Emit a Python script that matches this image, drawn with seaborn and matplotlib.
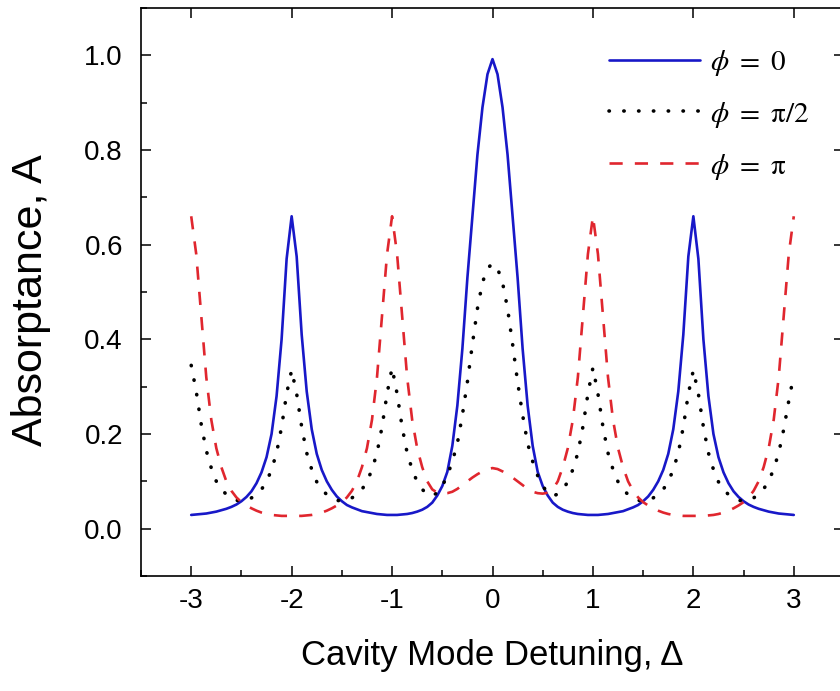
import numpy as np
import matplotlib
matplotlib.use('Agg')
import matplotlib.pyplot as plt
import seaborn as sns
from matplotlib.ticker import MultipleLocator

# sample positions along the detuning axis (step 0.05)
detuning = np.linspace(-3, 3, 121)

# values
absorb_phi0 = [
    0.029, 0.030, 0.031, 0.032, 0.034, 0.036, 0.039, 0.042, 0.046, 0.051,
    0.058, 0.067, 0.079, 0.096, 0.119, 0.151, 0.200, 0.280, 0.400, 0.570,
    0.660, 0.575, 0.410, 0.290, 0.210, 0.158, 0.124, 0.100, 0.082, 0.068,
    0.058, 0.050, 0.045, 0.041, 0.037, 0.035, 0.033, 0.031, 0.030, 0.029,
    0.029, 0.029, 0.030, 0.031, 0.033, 0.036, 0.040, 0.046, 0.055, 0.070,
    0.090, 0.120, 0.175, 0.260, 0.380, 0.530, 0.660, 0.790, 0.890, 0.960,
    0.992,
    0.960, 0.890, 0.790, 0.660, 0.530, 0.380, 0.260, 0.175, 0.120, 0.090,
    0.070, 0.055, 0.046, 0.040, 0.036, 0.033, 0.031, 0.030, 0.029, 0.029,
    0.029, 0.030, 0.031, 0.033, 0.035, 0.037, 0.041, 0.045, 0.050, 0.058,
    0.068, 0.082, 0.100, 0.124, 0.158, 0.210, 0.290, 0.410, 0.575, 0.660,
    0.570, 0.400, 0.280, 0.200, 0.151, 0.119, 0.096, 0.079, 0.067, 0.058,
    0.051, 0.046, 0.042, 0.039, 0.036, 0.034, 0.032, 0.031, 0.030, 0.029,
]

absorb_phi_half = [
    0.345, 0.290, 0.220, 0.165, 0.128, 0.100, 0.084, 0.072, 0.065, 0.060,
    0.058, 0.060, 0.065, 0.072, 0.083, 0.099, 0.125, 0.160, 0.215, 0.285,
    0.335, 0.285, 0.215, 0.160, 0.125, 0.099, 0.083, 0.072, 0.065, 0.060,
    0.058, 0.060, 0.065, 0.072, 0.083, 0.099, 0.125, 0.160, 0.215, 0.285,
    0.340, 0.285, 0.215, 0.160, 0.125, 0.099, 0.083, 0.073, 0.069, 0.076,
    0.090, 0.112, 0.142, 0.180, 0.240, 0.310, 0.390, 0.465, 0.520, 0.550,
    0.560,
    0.550, 0.520, 0.465, 0.390, 0.310, 0.240, 0.180, 0.142, 0.112, 0.090,
    0.076, 0.069, 0.073, 0.083, 0.099, 0.125, 0.160, 0.215, 0.285, 0.340,
    0.285, 0.215, 0.160, 0.125, 0.099, 0.083, 0.072, 0.065, 0.060, 0.058,
    0.060, 0.065, 0.072, 0.083, 0.099, 0.125, 0.160, 0.215, 0.285, 0.335,
    0.285, 0.215, 0.160, 0.125, 0.099, 0.083, 0.072, 0.065, 0.060, 0.058,
    0.060, 0.065, 0.072, 0.084, 0.100, 0.126, 0.160, 0.210, 0.270, 0.325,
]

absorb_phi_pi = [
    0.660, 0.580, 0.450, 0.320, 0.230, 0.170, 0.130, 0.100, 0.080, 0.066,
    0.056, 0.049, 0.043, 0.038, 0.034, 0.031, 0.029, 0.028, 0.027, 0.027,
    0.027, 0.027, 0.027, 0.028, 0.029, 0.031, 0.034, 0.038, 0.043, 0.049,
    0.056, 0.066, 0.080, 0.100, 0.130, 0.170, 0.230, 0.320, 0.450, 0.580,
    0.660, 0.580, 0.450, 0.320, 0.230, 0.170, 0.130, 0.100, 0.083, 0.076,
    0.074, 0.075, 0.078, 0.084, 0.092, 0.100, 0.108, 0.115, 0.121, 0.126,
    0.128,
    0.126, 0.121, 0.115, 0.108, 0.100, 0.092, 0.084, 0.078, 0.075, 0.074,
    0.076, 0.083, 0.100, 0.130, 0.170, 0.230, 0.320, 0.450, 0.580, 0.660,
    0.580, 0.450, 0.320, 0.230, 0.170, 0.130, 0.100, 0.080, 0.066, 0.056,
    0.049, 0.043, 0.038, 0.034, 0.031, 0.029, 0.028, 0.027, 0.027, 0.027,
    0.027, 0.027, 0.028, 0.029, 0.031, 0.034, 0.038, 0.043, 0.049, 0.056,
    0.066, 0.080, 0.100, 0.130, 0.170, 0.230, 0.320, 0.450, 0.580, 0.660,
]

labels = [r'$\phi\ =\ 0$', r'$\phi\ =\ \mathrm{\pi}/2$', r'$\phi\ =\ \mathrm{\pi}$']

sns.set_style('ticks')
plt.rcParams['font.family'] = ['Liberation Sans', 'DejaVu Sans']
plt.rcParams['mathtext.fontset'] = 'stix'
plt.rcParams['axes.unicode_minus'] = False
for key in ['text.color', 'axes.labelcolor', 'xtick.color', 'ytick.color',
            'axes.edgecolor']:
    plt.rcParams[key] = 'black'

fig = plt.figure(figsize=(8.4, 6.91), dpi=100)
ax = fig.add_axes([141 / 840, 115 / 691, 703 / 840, 568 / 691])

sns.lineplot(x=detuning, y=absorb_phi0, ax=ax, color='#1818c8', lw=1.9,
             label=labels[0])
sns.lineplot(x=detuning, y=absorb_phi_half, ax=ax, color='black', lw=2.6,
             linestyle=(0, (0.1, 4.0)), dash_capstyle='round', label=labels[1])
sns.lineplot(x=detuning, y=absorb_phi_pi, ax=ax, color='#e0262e', lw=1.9,
             linestyle=(0, (5.0, 4.6)), label=labels[2])

ax.set_xlim(-3.5, 3.5)
ax.set_ylim(-0.1, 1.1)
ax.xaxis.set_major_locator(MultipleLocator(1))
ax.xaxis.set_minor_locator(MultipleLocator(0.5))
ax.yaxis.set_major_locator(MultipleLocator(0.2))
ax.yaxis.set_minor_locator(MultipleLocator(0.1))
ax.tick_params(which='both', direction='in', top=True, right=True, width=1.1)
ax.tick_params(which='major', length=7, labelsize=20)
ax.tick_params(axis='x', which='major', pad=9)
ax.tick_params(axis='y', which='major', pad=13)
ax.tick_params(which='minor', length=4, top=False, right=False)
for sp in ax.spines.values():
    sp.set_linewidth(1.2)

ax.set_xlabel('Cavity Mode Detuning, Δ', fontsize=25, labelpad=18)
ax.set_ylabel('Absorptance, A', fontsize=31)
ax.yaxis.set_label_coords(-0.128, 0.485)

ax.legend(loc='upper left', bbox_to_anchor=(0.666, 0.93), frameon=False,
          prop={'size': 21}, handlelength=3.1, handletextpad=0.35,
          labelspacing=0.75, borderpad=0, borderaxespad=0)

fig.savefig('out.png', dpi=100)
